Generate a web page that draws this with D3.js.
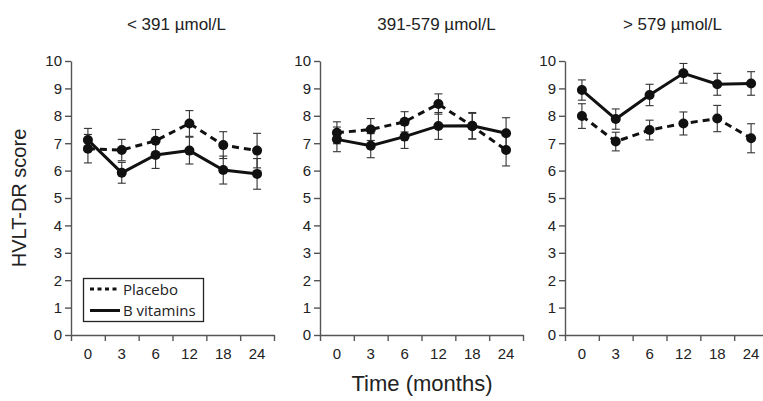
<!DOCTYPE html>
<html>
<head>
<meta charset="utf-8">
<script src="https://cdn.jsdelivr.net/npm/d3@7"></script>
<style>
    body { margin: 0; background: #fff; }
    svg { display: block; }
    .tick text { font-family: "Liberation Sans", Arial, sans-serif; font-size: 15px; fill: #222; }
    .axis path, .axis line { stroke: #555; }
</style>
</head>
<body>
<div id="chart"></div>
<script>
const times = ["0", "3", "6", "12", "18", "24"];
const panelTitles = ["< 391 µmol/L", "391-579 µmol/L", "> 579 µmol/L"];
const yTicks = [0, 1, 2, 3, 4, 5, 6, 7, 8, 9, 10];

// mean and error per panel
const placeboMeans = [
    [6.80, 6.75, 7.09, 7.72, 6.93, 6.73],
    [7.38, 7.50, 7.78, 8.43, 7.62, 6.75],
    [7.99, 7.06, 7.48, 7.72, 7.90, 7.18]
];
const placeboErr = [
    [0.52, 0.39, 0.41, 0.47, 0.49, 0.63],
    [0.40, 0.40, 0.37, 0.37, 0.47, 0.58],
    [0.45, 0.34, 0.36, 0.42, 0.48, 0.53]
];
const vitaminMeans = [
    [7.12, 5.92, 6.57, 6.73, 6.02, 5.88],
    [7.14, 6.91, 7.24, 7.63, 7.64, 7.36],
    [8.94, 7.88, 8.76, 9.55, 9.15, 9.18]
];
const vitaminErr = [
    [0.42, 0.38, 0.49, 0.49, 0.51, 0.56],
    [0.45, 0.44, 0.43, 0.49, 0.48, 0.57],
    [0.37, 0.37, 0.39, 0.36, 0.40, 0.43]
];
const legendLabels = ["Placebo", "B vitamins"];

const width = 763;
const height = 401;
const panelLeft = [71, 320, 565];
const panelWidth = 203;
const y = d3.scaleLinear().domain([0, 10]).range([335, 61]);

const svg = d3.select("#chart")
    .append("svg")
    .attr("width", width)
    .attr("height", height);

const sans = '"Liberation Sans", Arial, sans-serif';

panelTitles.forEach((title, p) => {
    const left = panelLeft[p];
    const x = d3.scaleBand().domain(times).range([left, left + panelWidth]);
    const xEdge = d3.scaleLinear().domain([0, times.length]).range([left, left + panelWidth]);
    const g = svg.append("g");

    // title
    g.append("text")
        .attr("x", left + panelWidth / 2 + [4, 15, 6][p])
        .attr("y", 30)
        .attr("text-anchor", "middle")
        .style("font-family", sans)
        .style("font-size", "17px")
        .style("fill", "#222")
        .text(title);

    // y axis
    g.append("g")
        .attr("class", "axis")
        .attr("transform", `translate(${left},0)`)
        .call(d3.axisLeft(y).tickValues(yTicks).tickSize(6).tickSizeOuter(0).tickPadding(3))
        .call(a => a.selectAll("path, line").attr("stroke-width", 1.4));

    // x axis: ticks at band edges, labels at band centres
    g.append("g")
        .attr("class", "axis")
        .attr("transform", `translate(0,${y(0)})`)
        .call(d3.axisBottom(xEdge).tickValues(d3.range(times.length + 1)).tickFormat("").tickSize(6).tickSizeOuter(0))
        .call(a => a.selectAll("path, line").attr("stroke-width", 1.4));
    g.append("g")
        .attr("transform", `translate(0,${y(0)})`)
        .call(d3.axisBottom(x).tickSize(0).tickPadding(13))
        .call(a => a.select(".domain").remove());

    const series = [
        { means: placeboMeans[p], err: placeboErr[p], dash: "7,5" },
        { means: vitaminMeans[p], err: vitaminErr[p], dash: null }
    ];

    series.forEach(s => {
        const pts = times.map((t, i) => ({ t: t, v: s.means[i], e: s.err[i] }));
        const eb = g.append("g").selectAll("g")
            .data(pts)
            .enter().append("g")
            .attr("stroke", "#333")
            .attr("stroke-width", 1.1);
        eb.append("line")
            .attr("x1", d => x(d.t) + x.bandwidth() / 2)
            .attr("x2", d => x(d.t) + x.bandwidth() / 2)
            .attr("y1", d => y(d.v - d.e))
            .attr("y2", d => y(d.v + d.e));
        [-1, 1].forEach(sign => {
            eb.append("line")
                .attr("x1", d => x(d.t) + x.bandwidth() / 2 - 4)
                .attr("x2", d => x(d.t) + x.bandwidth() / 2 + 4)
                .attr("y1", d => y(d.v + sign * d.e))
                .attr("y2", d => y(d.v + sign * d.e));
        });
    });

    series.forEach(s => {
        const pts = times.map((t, i) => ({ t: t, v: s.means[i] }));
        const line = d3.line()
            .x(d => x(d.t) + x.bandwidth() / 2)
            .y(d => y(d.v));
        g.append("path")
            .datum(pts)
            .attr("d", line)
            .attr("fill", "none")
            .attr("stroke", "#111")
            .attr("stroke-width", 3)
            .attr("stroke-dasharray", s.dash);
        g.append("g").selectAll("circle")
            .data(pts)
            .enter().append("circle")
            .attr("cx", d => x(d.t) + x.bandwidth() / 2)
            .attr("cy", d => y(d.v))
            .attr("r", 5)
            .attr("fill", "#111");
    });
});

// axis titles
svg.append("text")
    .attr("transform", "translate(26,198) rotate(-90)")
    .attr("text-anchor", "middle")
    .style("font-family", sans)
    .style("font-size", "20px")
    .style("fill", "#222")
    .text("HVLT-DR score");

svg.append("text")
    .attr("x", 422)
    .attr("y", 391)
    .attr("text-anchor", "middle")
    .style("font-family", sans)
    .style("font-size", "22px")
    .style("fill", "#222")
    .text("Time (months)");

// legend
const legend = svg.append("g");
legend.append("rect")
    .attr("x", 83.5)
    .attr("y", 278.5)
    .attr("width", 120)
    .attr("height", 43)
    .attr("fill", "#fff")
    .attr("stroke", "#222")
    .attr("stroke-width", 1.3);
legendLabels.forEach((label, i) => {
    const ly = 289 + i * 21.5;
    legend.append("line")
        .attr("x1", 90)
        .attr("x2", 120)
        .attr("y1", ly)
        .attr("y2", ly)
        .attr("stroke", "#111")
        .attr("stroke-width", 3)
        .attr("stroke-dasharray", i === 0 ? "4,3.5" : null);
    legend.append("text")
        .attr("x", 123)
        .attr("y", ly + 5.5)
        .style("font-family", '"Open Sans", "Noto Sans", sans-serif')
        .style("font-size", "15px")
        .style("fill", "#222")
        .text(label);
});
</script>
</body>
</html>
